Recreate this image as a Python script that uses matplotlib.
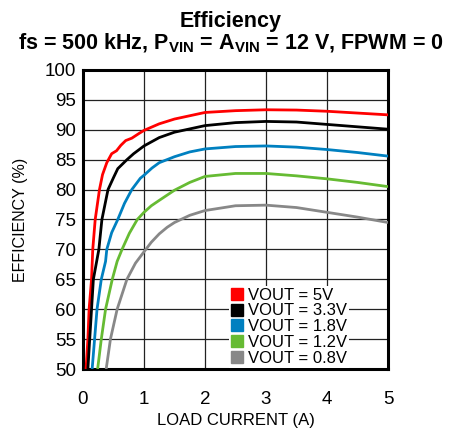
import matplotlib
matplotlib.use("Agg")
from matplotlib import pyplot as plt
from matplotlib.lines import Line2D

plt.rcParams['font.family'] = ['Liberation Sans', 'DejaVu Sans']
plt.rcParams['mathtext.fontset'] = 'custom'
plt.rcParams['mathtext.rm'] = 'Liberation Sans'
plt.rcParams['mathtext.bf'] = 'Liberation Sans:bold'

# load current (A) / efficiency (%)
i_5v0 = [0.05, 0.08, 0.10, 0.14, 0.16, 0.20, 0.27, 0.32, 0.39, 0.47, 0.55, 0.62,
         0.70, 0.80, 0.92, 1.0, 1.25, 1.5, 2.0, 2.5, 3.0, 3.5, 4.0, 4.5, 5.0]
e_5v0 = [50, 55, 60, 65, 70, 75, 80, 82.5, 84.5, 86, 86.5, 87.4,
         88.2, 88.6, 89.4, 89.9, 91.0, 91.8, 92.9, 93.2, 93.35, 93.3, 93.1, 92.8, 92.5]

i_3v3 = [0.08, 0.11, 0.14, 0.17, 0.26, 0.31, 0.41, 0.50, 0.57, 0.64, 0.72, 0.83,
         1.0, 1.25, 1.5, 2.0, 2.5, 3.0, 3.5, 4.0, 4.5, 5.0]
e_3v3 = [50, 55, 60, 65, 70, 75, 80, 82, 83.5, 84.2, 85, 86,
         87.3, 88.7, 89.6, 90.7, 91.2, 91.4, 91.3, 90.9, 90.5, 90.1]

i_1v8 = [0.15, 0.19, 0.23, 0.30, 0.37, 0.39, 0.47, 0.57, 0.68, 0.80, 0.94, 1.0,
         1.13, 1.25, 1.5, 1.75, 2.0, 2.5, 3.0, 3.5, 4.0, 4.5, 5.0]
e_1v8 = [50, 55, 60, 65, 68, 70, 72.8, 75, 77.7, 80, 81.9, 82.4,
         83.6, 84.5, 85.5, 86.3, 86.8, 87.2, 87.3, 87.1, 86.7, 86.2, 85.6]

i_1v2 = [0.24, 0.30, 0.37, 0.48, 0.56, 0.64, 0.76, 0.89, 1.0, 1.12, 1.25, 1.5, 1.75,
         2.0, 2.5, 3.0, 3.5, 4.0, 4.5, 5.0]
e_1v2 = [50, 55, 60, 65, 68, 70, 72.7, 75, 76.2, 77.3, 78.2, 79.9, 81.2,
         82.2, 82.7, 82.7, 82.3, 81.8, 81.2, 80.5]

i_0v8 = [0.38, 0.45, 0.56, 0.72, 0.86, 1.0, 1.12, 1.25, 1.38, 1.5, 1.75, 2.0,
         2.5, 3.0, 3.5, 4.0, 4.5, 5.0]
e_0v8 = [50, 55, 60, 65, 67.7, 69.6, 71.2, 72.6, 73.7, 74.5, 75.7, 76.5,
         77.3, 77.4, 77.0, 76.2, 75.4, 74.5]

labels = ['VOUT = 5V', 'VOUT = 3.3V', 'VOUT = 1.8V', 'VOUT = 1.2V', 'VOUT = 0.8V']
colors = ['#ff0000', '#000000', '#0080c0', '#66bb33', '#888888']
series = [(i_5v0, e_5v0), (i_3v3, e_3v3), (i_1v8, e_1v8), (i_1v2, e_1v2), (i_0v8, e_0v8)]

fig = plt.figure(figsize=(4.52, 4.29), dpi=100)
ax = fig.add_axes([83 / 452, 1 - 369 / 429, 305 / 452, 299 / 429])

for (x, y), c in zip(series, colors):
    ax.plot(x, y, color=c, lw=2.0, solid_capstyle='butt', zorder=3)

ax.set_xlim(0, 5)
ax.set_ylim(50, 100)
ax.set_xticks(range(0, 6))
ax.set_yticks(range(50, 101, 5))
ax.grid(True, color='#222222', lw=0.9)
ax.set_axisbelow(True)
ax.tick_params(length=0, labelsize=13.5)
ax.tick_params(axis='x', pad=16)
ax.tick_params(axis='y', pad=5)
for s in ax.spines.values():
    s.set_linewidth(2.2)

ax.set_xlabel('LOAD CURRENT (A)', fontsize=12)
ax.xaxis.set_label_coords(0.5, -0.148)
ax.set_ylabel('EFFICIENCY (%)', fontsize=11.5)
ax.yaxis.set_label_coords(-0.18, 0.5)

fig.text(0.511, 0.951, 'Efficiency', ha='center', va='center', fontsize=15.5, fontweight='bold')
fig.text(0.511, 0.899, r'fs = 500 kHz, P$\mathbf{_{VIN}}$ = A$\mathbf{_{VIN}}$ = 12 V, FPWM = 0',
         ha='center', va='center', fontsize=15.5, fontweight='bold')

handles = [Line2D([], [], marker='s', ls='', color=c, markersize=8) for c in colors]
leg = ax.legend(handles, labels, loc='lower left', bbox_to_anchor=(0.48, 0.005),
                fontsize=12, handlelength=0.7, handletextpad=0.3, labelspacing=0.05,
                borderpad=0.1, borderaxespad=0, frameon=True, fancybox=False)
leg.get_frame().set_edgecolor('none')
leg.get_frame().set_facecolor('white')
leg.get_frame().set_alpha(1)

fig.savefig('out.png', dpi=100)
